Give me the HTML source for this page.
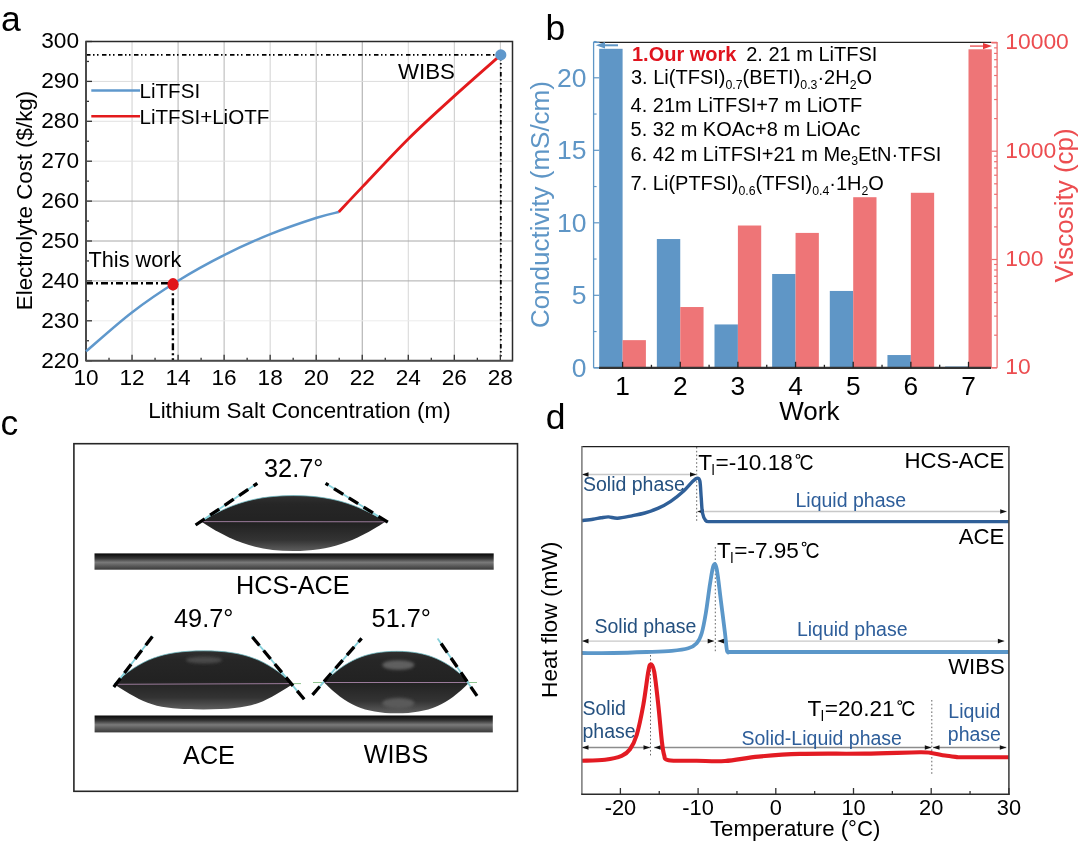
<!DOCTYPE html>
<html><head><meta charset="utf-8"><style>
html,body{margin:0;padding:0;background:#fff;width:1080px;height:843px;overflow:hidden}
svg{display:block;font-family:"Liberation Sans", sans-serif;will-change:transform}
</style></head><body>
<svg width="1080" height="843" viewBox="0 0 1080 843">
<rect width="1080" height="843" fill="#fff"/>
<text x="0.90" y="31.40" font-size="35.5" fill="#000" text-anchor="start" font-weight="normal" >a</text>
<text x="545.60" y="39.80" font-size="35.5" fill="#000" text-anchor="start" font-weight="normal" >b</text>
<text x="0.60" y="435.00" font-size="35.5" fill="#000" text-anchor="start" font-weight="normal" >c</text>
<text x="545.80" y="429.00" font-size="35.5" fill="#000" text-anchor="start" font-weight="normal" >d</text>
<line x1="132.04" y1="41.40" x2="132.04" y2="360.70" stroke="#cfcfcf" stroke-width="1" />
<line x1="178.08" y1="41.40" x2="178.08" y2="360.70" stroke="#b4b4b4" stroke-width="1" />
<line x1="224.12" y1="41.40" x2="224.12" y2="360.70" stroke="#b4b4b4" stroke-width="1" />
<line x1="270.16" y1="41.40" x2="270.16" y2="360.70" stroke="#d2d2d2" stroke-width="1" />
<line x1="316.20" y1="41.40" x2="316.20" y2="360.70" stroke="#bababa" stroke-width="1" />
<line x1="362.24" y1="41.40" x2="362.24" y2="360.70" stroke="#a6a6a6" stroke-width="1" />
<line x1="408.28" y1="41.40" x2="408.28" y2="360.70" stroke="#d6d6d6" stroke-width="1" />
<line x1="454.32" y1="41.40" x2="454.32" y2="360.70" stroke="#c8c8c8" stroke-width="1" />
<line x1="500.36" y1="41.40" x2="500.36" y2="360.70" stroke="#c8c8c8" stroke-width="1" />
<line x1="86.00" y1="320.80" x2="512.50" y2="320.80" stroke="#ececec" stroke-width="1" />
<line x1="86.00" y1="280.90" x2="512.50" y2="280.90" stroke="#acacac" stroke-width="1" />
<line x1="86.00" y1="241.00" x2="512.50" y2="241.00" stroke="#a8a8a8" stroke-width="1" />
<line x1="86.00" y1="201.10" x2="512.50" y2="201.10" stroke="#a8a8a8" stroke-width="1" />
<line x1="86.00" y1="161.20" x2="512.50" y2="161.20" stroke="#e2e2e2" stroke-width="1" />
<line x1="86.00" y1="121.30" x2="512.50" y2="121.30" stroke="#e2e2e2" stroke-width="1" />
<line x1="86.00" y1="81.40" x2="512.50" y2="81.40" stroke="#dcdcdc" stroke-width="1" />
<path d="M86.00,54.9 H500.8 V360.70" fill="none" stroke="#000" stroke-width="1.8" stroke-dasharray="4.5 2.5 1.5 2.5 1.5 3.5"/>
<path d="M86.00,283.2 H172.9" fill="none" stroke="#000" stroke-width="2.4" stroke-dasharray="7 3 2 3"/>
<path d="M172.9,283.2 V360.70" fill="none" stroke="#000" stroke-width="2.4" stroke-dasharray="7 3 2 3"/>
<line x1="86.00" y1="360.70" x2="92.00" y2="360.70" stroke="#333" stroke-width="1.3" />
<line x1="86.00" y1="340.75" x2="89.00" y2="340.75" stroke="#333" stroke-width="1.3" />
<line x1="86.00" y1="320.80" x2="92.00" y2="320.80" stroke="#333" stroke-width="1.3" />
<line x1="86.00" y1="300.85" x2="89.00" y2="300.85" stroke="#333" stroke-width="1.3" />
<line x1="86.00" y1="280.90" x2="92.00" y2="280.90" stroke="#333" stroke-width="1.3" />
<line x1="86.00" y1="260.95" x2="89.00" y2="260.95" stroke="#333" stroke-width="1.3" />
<line x1="86.00" y1="241.00" x2="92.00" y2="241.00" stroke="#333" stroke-width="1.3" />
<line x1="86.00" y1="221.05" x2="89.00" y2="221.05" stroke="#333" stroke-width="1.3" />
<line x1="86.00" y1="201.10" x2="92.00" y2="201.10" stroke="#333" stroke-width="1.3" />
<line x1="86.00" y1="181.15" x2="89.00" y2="181.15" stroke="#333" stroke-width="1.3" />
<line x1="86.00" y1="161.20" x2="92.00" y2="161.20" stroke="#333" stroke-width="1.3" />
<line x1="86.00" y1="141.25" x2="89.00" y2="141.25" stroke="#333" stroke-width="1.3" />
<line x1="86.00" y1="121.30" x2="92.00" y2="121.30" stroke="#333" stroke-width="1.3" />
<line x1="86.00" y1="101.35" x2="89.00" y2="101.35" stroke="#333" stroke-width="1.3" />
<line x1="86.00" y1="81.40" x2="92.00" y2="81.40" stroke="#333" stroke-width="1.3" />
<line x1="86.00" y1="61.45" x2="89.00" y2="61.45" stroke="#333" stroke-width="1.3" />
<line x1="86.00" y1="41.50" x2="92.00" y2="41.50" stroke="#333" stroke-width="1.3" />
<line x1="86.00" y1="360.70" x2="86.00" y2="354.70" stroke="#333" stroke-width="1.3" />
<line x1="109.02" y1="360.70" x2="109.02" y2="357.70" stroke="#333" stroke-width="1.3" />
<line x1="132.04" y1="360.70" x2="132.04" y2="354.70" stroke="#333" stroke-width="1.3" />
<line x1="155.06" y1="360.70" x2="155.06" y2="357.70" stroke="#333" stroke-width="1.3" />
<line x1="178.08" y1="360.70" x2="178.08" y2="354.70" stroke="#333" stroke-width="1.3" />
<line x1="201.10" y1="360.70" x2="201.10" y2="357.70" stroke="#333" stroke-width="1.3" />
<line x1="224.12" y1="360.70" x2="224.12" y2="354.70" stroke="#333" stroke-width="1.3" />
<line x1="247.14" y1="360.70" x2="247.14" y2="357.70" stroke="#333" stroke-width="1.3" />
<line x1="270.16" y1="360.70" x2="270.16" y2="354.70" stroke="#333" stroke-width="1.3" />
<line x1="293.18" y1="360.70" x2="293.18" y2="357.70" stroke="#333" stroke-width="1.3" />
<line x1="316.20" y1="360.70" x2="316.20" y2="354.70" stroke="#333" stroke-width="1.3" />
<line x1="339.22" y1="360.70" x2="339.22" y2="357.70" stroke="#333" stroke-width="1.3" />
<line x1="362.24" y1="360.70" x2="362.24" y2="354.70" stroke="#333" stroke-width="1.3" />
<line x1="385.26" y1="360.70" x2="385.26" y2="357.70" stroke="#333" stroke-width="1.3" />
<line x1="408.28" y1="360.70" x2="408.28" y2="354.70" stroke="#333" stroke-width="1.3" />
<line x1="431.30" y1="360.70" x2="431.30" y2="357.70" stroke="#333" stroke-width="1.3" />
<line x1="454.32" y1="360.70" x2="454.32" y2="354.70" stroke="#333" stroke-width="1.3" />
<line x1="477.34" y1="360.70" x2="477.34" y2="357.70" stroke="#333" stroke-width="1.3" />
<line x1="500.36" y1="360.70" x2="500.36" y2="354.70" stroke="#333" stroke-width="1.3" />
<path d="M86.00,360.70 V41.40 H512.50 V360.70 Z" fill="none" stroke="#2a2a2a" stroke-width="1.5"/>
<line x1="86.00" y1="41.40" x2="86.00" y2="360.70" stroke="#4a4a4a" stroke-width="1.8" />
<line x1="86.00" y1="360.70" x2="512.50" y2="360.70" stroke="#4a4a4a" stroke-width="1.8" />
<path d="M86.00,351.40 C93.65,344.90 116.55,324.18 131.90,312.40 C147.25,300.62 162.65,290.30 178.10,280.70 C193.55,271.10 209.32,262.52 224.60,254.80 C239.88,247.08 254.45,240.57 269.80,234.40 C285.15,228.23 305.20,221.53 316.70,217.80 C328.20,214.07 335.12,212.97 338.80,212.00" fill="none" stroke="#5f98cc" stroke-width="2.5"/>
<path d="M338.80,212.00 C342.73,207.82 350.70,199.20 362.40,186.90 C374.10,174.60 393.65,153.37 409.00,138.20 C424.35,123.03 439.20,109.78 454.50,95.90 C469.80,82.02 493.08,61.73 500.80,54.90" fill="none" stroke="#e31a1c" stroke-width="2.8"/>
<ellipse cx="173.0" cy="284.3" rx="5.6" ry="6.2" fill="#e11419"/>
<circle cx="500.8" cy="54.9" r="5.6" fill="#5f98cc"/>
<line x1="91.30" y1="90.50" x2="140.00" y2="90.50" stroke="#5f98cc" stroke-width="2.4" />
<line x1="91.30" y1="116.30" x2="140.00" y2="116.30" stroke="#e31a1c" stroke-width="2.4" />
<text x="139.50" y="97.60" font-size="20.6" fill="#000" text-anchor="start" font-weight="normal" >LiTFSI</text>
<text x="139.50" y="124.30" font-size="20.6" fill="#000" text-anchor="start" font-weight="normal" >LiTFSI+LiOTF</text>
<text x="88.50" y="266.90" font-size="21.7" fill="#000" text-anchor="start" font-weight="normal" >This work</text>
<text x="398.00" y="79.10" font-size="22.3" fill="#000" text-anchor="start" font-weight="normal" >WIBS</text>
<text x="79.00" y="367.60" font-size="22.7" fill="#000" text-anchor="end" font-weight="normal" >220</text>
<text x="79.00" y="327.70" font-size="22.7" fill="#000" text-anchor="end" font-weight="normal" >230</text>
<text x="79.00" y="287.80" font-size="22.7" fill="#000" text-anchor="end" font-weight="normal" >240</text>
<text x="79.00" y="247.90" font-size="22.7" fill="#000" text-anchor="end" font-weight="normal" >250</text>
<text x="79.00" y="208.00" font-size="22.7" fill="#000" text-anchor="end" font-weight="normal" >260</text>
<text x="79.00" y="168.10" font-size="22.7" fill="#000" text-anchor="end" font-weight="normal" >270</text>
<text x="79.00" y="128.20" font-size="22.7" fill="#000" text-anchor="end" font-weight="normal" >280</text>
<text x="79.00" y="88.30" font-size="22.7" fill="#000" text-anchor="end" font-weight="normal" >290</text>
<text x="79.00" y="48.40" font-size="22.7" fill="#000" text-anchor="end" font-weight="normal" >300</text>
<text x="86.00" y="385.00" font-size="22.6" fill="#000" text-anchor="middle" font-weight="normal" >10</text>
<text x="132.04" y="385.00" font-size="22.6" fill="#000" text-anchor="middle" font-weight="normal" >12</text>
<text x="178.08" y="385.00" font-size="22.6" fill="#000" text-anchor="middle" font-weight="normal" >14</text>
<text x="224.12" y="385.00" font-size="22.6" fill="#000" text-anchor="middle" font-weight="normal" >16</text>
<text x="270.16" y="385.00" font-size="22.6" fill="#000" text-anchor="middle" font-weight="normal" >18</text>
<text x="316.20" y="385.00" font-size="22.6" fill="#000" text-anchor="middle" font-weight="normal" >20</text>
<text x="362.24" y="385.00" font-size="22.6" fill="#000" text-anchor="middle" font-weight="normal" >22</text>
<text x="408.28" y="385.00" font-size="22.6" fill="#000" text-anchor="middle" font-weight="normal" >24</text>
<text x="454.32" y="385.00" font-size="22.6" fill="#000" text-anchor="middle" font-weight="normal" >26</text>
<text x="500.36" y="385.00" font-size="22.6" fill="#000" text-anchor="middle" font-weight="normal" >28</text>
<text x="299.40" y="418.40" font-size="22.4" fill="#000" text-anchor="middle" font-weight="normal" >Lithium Salt Concentration (m)</text>
<text transform="translate(31.5,200.5) rotate(-90)" x="0" y="0" font-size="22.3" text-anchor="middle" fill="#000">Electrolyte Cost ($/kg)</text>
<rect x="599.20" y="48.80" width="23.4" height="319.00" fill="#5f96c6"/>
<rect x="622.60" y="340.15" width="23.3" height="27.65" fill="#ee7577"/>
<rect x="656.85" y="239.04" width="23.4" height="128.76" fill="#5f96c6"/>
<rect x="680.25" y="307.03" width="23.3" height="60.77" fill="#ee7577"/>
<rect x="714.50" y="324.44" width="23.4" height="43.36" fill="#5f96c6"/>
<rect x="737.90" y="225.51" width="23.3" height="142.29" fill="#ee7577"/>
<rect x="772.15" y="273.99" width="23.4" height="93.81" fill="#5f96c6"/>
<rect x="795.55" y="232.91" width="23.3" height="134.89" fill="#ee7577"/>
<rect x="829.80" y="290.95" width="23.4" height="76.85" fill="#5f96c6"/>
<rect x="853.20" y="197.21" width="23.3" height="170.59" fill="#ee7577"/>
<rect x="887.45" y="355.04" width="23.4" height="12.76" fill="#5f96c6"/>
<rect x="910.85" y="192.79" width="23.3" height="175.01" fill="#ee7577"/>
<rect x="945.10" y="366.50" width="23.4" height="1.31" fill="#5f96c6"/>
<rect x="968.50" y="49.29" width="23.3" height="318.51" fill="#ee7577"/>
<line x1="594.60" y1="42.40" x2="991.00" y2="42.40" stroke="#222" stroke-width="1.4" />
<line x1="991.00" y1="42.40" x2="997.10" y2="42.40" stroke="#ec6f71" stroke-width="1.3" />
<line x1="593.60" y1="42.40" x2="599.60" y2="42.40" stroke="#5f96c6" stroke-width="1.3" />
<line x1="599.00" y1="367.80" x2="991.00" y2="367.80" stroke="#333" stroke-width="2.2" />
<line x1="991.00" y1="367.80" x2="997.10" y2="367.80" stroke="#ec6f71" stroke-width="1.3" />
<line x1="593.60" y1="42.10" x2="593.60" y2="367.80" stroke="#5f96c6" stroke-width="1.3" />
<line x1="593.60" y1="367.80" x2="599.00" y2="367.80" stroke="#5f96c6" stroke-width="1.3" />
<line x1="997.10" y1="42.10" x2="997.10" y2="367.80" stroke="#ec6f71" stroke-width="1.3" />
<line x1="593.60" y1="367.80" x2="599.20" y2="367.80" stroke="#5f96c6" stroke-width="1.2" />
<line x1="593.60" y1="331.55" x2="596.60" y2="331.55" stroke="#5f96c6" stroke-width="1.2" />
<line x1="593.60" y1="295.30" x2="599.20" y2="295.30" stroke="#5f96c6" stroke-width="1.2" />
<line x1="593.60" y1="259.05" x2="596.60" y2="259.05" stroke="#5f96c6" stroke-width="1.2" />
<line x1="593.60" y1="222.80" x2="599.20" y2="222.80" stroke="#5f96c6" stroke-width="1.2" />
<line x1="593.60" y1="186.55" x2="596.60" y2="186.55" stroke="#5f96c6" stroke-width="1.2" />
<line x1="593.60" y1="150.30" x2="599.20" y2="150.30" stroke="#5f96c6" stroke-width="1.2" />
<line x1="593.60" y1="114.05" x2="596.60" y2="114.05" stroke="#5f96c6" stroke-width="1.2" />
<line x1="593.60" y1="77.80" x2="599.20" y2="77.80" stroke="#5f96c6" stroke-width="1.2" />
<line x1="593.60" y1="41.55" x2="596.60" y2="41.55" stroke="#5f96c6" stroke-width="1.2" />
<line x1="991.60" y1="367.80" x2="997.10" y2="367.80" stroke="#ec6f71" stroke-width="1.2" />
<line x1="994.10" y1="335.20" x2="997.10" y2="335.20" stroke="#ec6f71" stroke-width="1.2" />
<line x1="994.10" y1="316.13" x2="997.10" y2="316.13" stroke="#ec6f71" stroke-width="1.2" />
<line x1="994.10" y1="302.60" x2="997.10" y2="302.60" stroke="#ec6f71" stroke-width="1.2" />
<line x1="994.10" y1="292.10" x2="997.10" y2="292.10" stroke="#ec6f71" stroke-width="1.2" />
<line x1="994.10" y1="283.53" x2="997.10" y2="283.53" stroke="#ec6f71" stroke-width="1.2" />
<line x1="994.10" y1="276.28" x2="997.10" y2="276.28" stroke="#ec6f71" stroke-width="1.2" />
<line x1="994.10" y1="270.00" x2="997.10" y2="270.00" stroke="#ec6f71" stroke-width="1.2" />
<line x1="994.10" y1="264.46" x2="997.10" y2="264.46" stroke="#ec6f71" stroke-width="1.2" />
<line x1="991.60" y1="259.50" x2="997.10" y2="259.50" stroke="#ec6f71" stroke-width="1.2" />
<line x1="994.10" y1="226.90" x2="997.10" y2="226.90" stroke="#ec6f71" stroke-width="1.2" />
<line x1="994.10" y1="207.83" x2="997.10" y2="207.83" stroke="#ec6f71" stroke-width="1.2" />
<line x1="994.10" y1="194.30" x2="997.10" y2="194.30" stroke="#ec6f71" stroke-width="1.2" />
<line x1="994.10" y1="183.80" x2="997.10" y2="183.80" stroke="#ec6f71" stroke-width="1.2" />
<line x1="994.10" y1="175.23" x2="997.10" y2="175.23" stroke="#ec6f71" stroke-width="1.2" />
<line x1="994.10" y1="167.98" x2="997.10" y2="167.98" stroke="#ec6f71" stroke-width="1.2" />
<line x1="994.10" y1="161.70" x2="997.10" y2="161.70" stroke="#ec6f71" stroke-width="1.2" />
<line x1="994.10" y1="156.16" x2="997.10" y2="156.16" stroke="#ec6f71" stroke-width="1.2" />
<line x1="991.60" y1="151.20" x2="997.10" y2="151.20" stroke="#ec6f71" stroke-width="1.2" />
<line x1="994.10" y1="118.60" x2="997.10" y2="118.60" stroke="#ec6f71" stroke-width="1.2" />
<line x1="994.10" y1="99.53" x2="997.10" y2="99.53" stroke="#ec6f71" stroke-width="1.2" />
<line x1="994.10" y1="86.00" x2="997.10" y2="86.00" stroke="#ec6f71" stroke-width="1.2" />
<line x1="994.10" y1="75.50" x2="997.10" y2="75.50" stroke="#ec6f71" stroke-width="1.2" />
<line x1="994.10" y1="66.93" x2="997.10" y2="66.93" stroke="#ec6f71" stroke-width="1.2" />
<line x1="994.10" y1="59.68" x2="997.10" y2="59.68" stroke="#ec6f71" stroke-width="1.2" />
<line x1="994.10" y1="53.40" x2="997.10" y2="53.40" stroke="#ec6f71" stroke-width="1.2" />
<line x1="994.10" y1="47.86" x2="997.10" y2="47.86" stroke="#ec6f71" stroke-width="1.2" />
<line x1="991.60" y1="42.90" x2="997.10" y2="42.90" stroke="#ec6f71" stroke-width="1.2" />
<line x1="622.60" y1="367.80" x2="622.60" y2="361.80" stroke="#222" stroke-width="1.3" />
<line x1="651.44" y1="367.80" x2="651.44" y2="364.80" stroke="#222" stroke-width="1.3" />
<line x1="680.25" y1="367.80" x2="680.25" y2="361.80" stroke="#222" stroke-width="1.3" />
<line x1="709.09" y1="367.80" x2="709.09" y2="364.80" stroke="#222" stroke-width="1.3" />
<line x1="737.90" y1="367.80" x2="737.90" y2="361.80" stroke="#222" stroke-width="1.3" />
<line x1="766.74" y1="367.80" x2="766.74" y2="364.80" stroke="#222" stroke-width="1.3" />
<line x1="795.55" y1="367.80" x2="795.55" y2="361.80" stroke="#222" stroke-width="1.3" />
<line x1="824.39" y1="367.80" x2="824.39" y2="364.80" stroke="#222" stroke-width="1.3" />
<line x1="853.20" y1="367.80" x2="853.20" y2="361.80" stroke="#222" stroke-width="1.3" />
<line x1="882.04" y1="367.80" x2="882.04" y2="364.80" stroke="#222" stroke-width="1.3" />
<line x1="910.85" y1="367.80" x2="910.85" y2="361.80" stroke="#222" stroke-width="1.3" />
<line x1="939.69" y1="367.80" x2="939.69" y2="364.80" stroke="#222" stroke-width="1.3" />
<line x1="968.50" y1="367.80" x2="968.50" y2="361.80" stroke="#222" stroke-width="1.3" />
<path d="M600,45.3 L618,45.3" stroke="#5f96c6" stroke-width="2"/>
<path d="M595.8,45.3 L605,42.0 L605,48.6 Z" fill="#5f96c6"/>
<path d="M970,46.1 L985,46.1" stroke="#ec6a6c" stroke-width="1.6"/>
<path d="M992,46.1 L983,42.9 L983,49.3 Z" fill="#e8383b"/>
<text x="586.60" y="376.70" font-size="26.5" fill="#5f96c6" text-anchor="end" font-weight="normal" >0</text>
<text x="586.60" y="304.20" font-size="26.5" fill="#5f96c6" text-anchor="end" font-weight="normal" >5</text>
<text x="586.60" y="231.70" font-size="26.5" fill="#5f96c6" text-anchor="end" font-weight="normal" >10</text>
<text x="586.60" y="159.20" font-size="26.5" fill="#5f96c6" text-anchor="end" font-weight="normal" >15</text>
<text x="586.60" y="86.70" font-size="26.5" fill="#5f96c6" text-anchor="end" font-weight="normal" >20</text>
<text x="1005.20" y="374.30" font-size="22.9" fill="#ec4d50" text-anchor="start" font-weight="normal" >10</text>
<text x="1005.20" y="266.00" font-size="22.9" fill="#ec4d50" text-anchor="start" font-weight="normal" >100</text>
<text x="1005.20" y="157.70" font-size="22.9" fill="#ec4d50" text-anchor="start" font-weight="normal" >1000</text>
<text x="1005.20" y="49.40" font-size="22.9" fill="#ec4d50" text-anchor="start" font-weight="normal" >10000</text>
<text x="622.60" y="394.60" font-size="26.3" fill="#000" text-anchor="middle" font-weight="normal" >1</text>
<text x="680.25" y="394.60" font-size="26.3" fill="#000" text-anchor="middle" font-weight="normal" >2</text>
<text x="737.90" y="394.60" font-size="26.3" fill="#000" text-anchor="middle" font-weight="normal" >3</text>
<text x="795.55" y="394.60" font-size="26.3" fill="#000" text-anchor="middle" font-weight="normal" >4</text>
<text x="853.20" y="394.60" font-size="26.3" fill="#000" text-anchor="middle" font-weight="normal" >5</text>
<text x="910.85" y="394.60" font-size="26.3" fill="#000" text-anchor="middle" font-weight="normal" >6</text>
<text x="968.50" y="394.60" font-size="26.3" fill="#000" text-anchor="middle" font-weight="normal" >7</text>
<text x="809.30" y="420.00" font-size="26" fill="#000" text-anchor="middle" font-weight="normal" >Work</text>
<text transform="translate(548.8,204.6) rotate(-90)" font-size="26" text-anchor="middle" fill="#5f96c6">Conductivity (mS/cm)</text>
<text transform="translate(1072.7,205.4) rotate(-90)" font-size="26" text-anchor="middle" fill="#ec4d50">Viscosity (cp)</text>
<text x="632" y="60.6" font-size="20" font-weight="bold" fill="#e0141e">1.Our work</text>
<text x="746.20" y="60.60" font-size="20" fill="#000" text-anchor="start" font-weight="normal" >2. 21 m LiTFSI</text>
<text x="631" y="84.4" font-size="20">3. Li(TFSI)<tspan font-size="12.3" dy="4.5">0.7</tspan><tspan dy="-4.5">(BETI)</tspan><tspan font-size="12.3" dy="4.5">0.3</tspan><tspan dy="-4.5">·2H</tspan><tspan font-size="12.3" dy="4.5">2</tspan><tspan dy="-4.5">O</tspan></text>
<text x="630.60" y="111.80" font-size="20" fill="#000" text-anchor="start" font-weight="normal" >4. 21m LiTFSI+7 m LiOTF</text>
<text x="630.60" y="136.10" font-size="20" fill="#000" text-anchor="start" font-weight="normal" >5. 32 m KOAc+8 m LiOAc</text>
<text x="630.6" y="160.8" font-size="20">6. 42 m LiTFSI+21 m Me<tspan font-size="12.3" dy="4.5">3</tspan><tspan dy="-4.5">EtN·TFSI</tspan></text>
<text x="630.6" y="190.3" font-size="20">7. Li(PTFSI)<tspan font-size="12.3" dy="4.5">0.6</tspan><tspan dy="-4.5">(TFSI)</tspan><tspan font-size="12.3" dy="4.5">0.4</tspan><tspan dy="-4.5">·1H</tspan><tspan font-size="12.3" dy="4.5">2</tspan><tspan dy="-4.5">O</tspan></text>
<rect x="73.9" y="443.7" width="443.6" height="347.6" fill="none" stroke="#262626" stroke-width="1.6"/>
<defs>
<linearGradient id="rod" x1="0" y1="0" x2="0" y2="1">
<stop offset="0" stop-color="#080808"/><stop offset="0.3" stop-color="#353535"/>
<stop offset="0.55" stop-color="#7a7a7a"/><stop offset="0.8" stop-color="#555"/><stop offset="1" stop-color="#3a3a3a"/>
</linearGradient>
<linearGradient id="drop" x1="0" y1="0" x2="0" y2="1">
<stop offset="0" stop-color="#303030"/><stop offset="0.15" stop-color="#262626"/><stop offset="0.5" stop-color="#222"/><stop offset="0.8" stop-color="#333"/><stop offset="1" stop-color="#5e5e5e"/>
</linearGradient>
<filter id="blur1" x="-20%" y="-50%" width="140%" height="200%"><feGaussianBlur stdDeviation="1.6"/></filter>
</defs>
<rect x="94.5" y="553.4" width="399.2" height="16.3" fill="url(#rod)"/>
<rect x="94.6" y="715.5" width="398.2" height="16.9" fill="url(#rod)"/>
<path d="M201.10,521.60 C230.62,503.40 256.45,495.60 293.35,495.60 C330.25,495.60 356.08,503.40 385.60,521.60 C355.16,541.66 330.25,551.10 293.35,551.10 C256.45,551.10 231.54,541.66 201.10,521.60 Z" fill="url(#drop)"/>
<path d="M113.80,684.00 C140.68,659.10 163.08,650.80 203.40,650.80 C243.72,650.80 266.12,659.10 293.00,684.00 C260.74,704.32 252.68,709.40 203.40,709.40 C154.12,709.40 146.06,704.32 113.80,684.00 Z" fill="url(#drop)"/>
<path d="M324.20,682.50 C345.95,660.04 366.25,651.30 396.70,651.30 C427.15,651.30 447.45,660.04 469.20,682.50 C447.45,704.68 429.32,713.30 396.70,713.30 C364.07,713.30 345.95,704.68 324.20,682.50 Z" fill="url(#drop)"/>
<path d="M201.10,521.60 C230.62,503.40 256.45,495.60 293.35,495.60 C330.25,495.60 356.08,503.40 385.60,521.60" fill="none" stroke="#6fc0c8" stroke-width="0.9" opacity="0.8"/>
<path d="M113.80,684.00 C140.68,659.10 163.08,650.80 203.40,650.80 C243.72,650.80 266.12,659.10 293.00,684.00" fill="none" stroke="#6fc0c8" stroke-width="0.9" opacity="0.8"/>
<path d="M324.20,682.50 C345.95,660.04 366.25,651.30 396.70,651.30 C427.15,651.30 447.45,660.04 469.20,682.50" fill="none" stroke="#6fc0c8" stroke-width="0.9" opacity="0.8"/>
<ellipse cx="204" cy="660" rx="18" ry="3.5" fill="#4a4a4a" filter="url(#blur1)"/>
<ellipse cx="398.3" cy="665" rx="16" ry="4.8" fill="#5e5e5e" filter="url(#blur1)"/>
<ellipse cx="398.3" cy="703.3" rx="16" ry="5.2" fill="#5a5a5a" filter="url(#blur1)"/>
<line x1="201.00" y1="521.60" x2="385.60" y2="521.80" stroke="#9a7a9a" stroke-width="1" />
<line x1="114.00" y1="684.30" x2="293.00" y2="683.60" stroke="#9a7a9a" stroke-width="1" />
<line x1="324.00" y1="682.50" x2="469.00" y2="682.50" stroke="#9a7a9a" stroke-width="1" />
<line x1="313.00" y1="682.50" x2="324.00" y2="682.50" stroke="#8fc48f" stroke-width="1" />
<line x1="469.00" y1="682.50" x2="477.00" y2="682.50" stroke="#8fc48f" stroke-width="1" />
<line x1="293.00" y1="683.60" x2="301.00" y2="683.60" stroke="#8fc48f" stroke-width="1" />
<line x1="195.60" y1="525.00" x2="257.30" y2="483.30" stroke="#86d0da" stroke-width="1.8" />
<line x1="195.60" y1="525.00" x2="257.30" y2="483.30" stroke="#000" stroke-width="3.3" stroke-dasharray="11 6.5"/>
<line x1="387.80" y1="522.20" x2="325.60" y2="483.30" stroke="#86d0da" stroke-width="1.8" />
<line x1="387.80" y1="522.20" x2="325.60" y2="483.30" stroke="#000" stroke-width="3.3" stroke-dasharray="11 6.5"/>
<line x1="113.80" y1="686.90" x2="152.60" y2="636.20" stroke="#86d0da" stroke-width="1.8" />
<line x1="113.80" y1="686.90" x2="152.60" y2="636.20" stroke="#000" stroke-width="3.3" stroke-dasharray="11 6.5"/>
<line x1="304.20" y1="699.30" x2="251.70" y2="636.20" stroke="#86d0da" stroke-width="1.8" />
<line x1="304.20" y1="699.30" x2="251.70" y2="636.20" stroke="#000" stroke-width="3.3" stroke-dasharray="11 6.5"/>
<line x1="312.50" y1="694.80" x2="361.60" y2="638.40" stroke="#86d0da" stroke-width="1.8" />
<line x1="312.50" y1="694.80" x2="361.60" y2="638.40" stroke="#000" stroke-width="3.3" stroke-dasharray="11 6.5"/>
<line x1="477.00" y1="695.90" x2="437.60" y2="638.40" stroke="#86d0da" stroke-width="1.8" />
<line x1="477.00" y1="695.90" x2="437.60" y2="638.40" stroke="#000" stroke-width="3.3" stroke-dasharray="11 6.5"/>
<text x="264.00" y="476.50" font-size="25.3" fill="#000" text-anchor="start" font-weight="normal" >32.7°</text>
<text x="292.80" y="594.40" font-size="25.2" fill="#000" text-anchor="middle" font-weight="normal" >HCS-ACE</text>
<text x="174.00" y="627.20" font-size="25.3" fill="#000" text-anchor="start" font-weight="normal" >49.7°</text>
<text x="209.00" y="763.50" font-size="25.2" fill="#000" text-anchor="middle" font-weight="normal" >ACE</text>
<text x="371.60" y="626.50" font-size="25.3" fill="#000" text-anchor="start" font-weight="normal" >51.7°</text>
<text x="396.00" y="763.30" font-size="25.2" fill="#000" text-anchor="middle" font-weight="normal" >WIBS</text>
<line x1="696.70" y1="447.00" x2="696.70" y2="521.00" stroke="#666" stroke-width="1" stroke-dasharray="1.6 2.2"/>
<line x1="715.30" y1="547.00" x2="715.30" y2="652.00" stroke="#666" stroke-width="1" stroke-dasharray="1.6 2.2"/>
<line x1="650.50" y1="655.00" x2="650.50" y2="756.00" stroke="#666" stroke-width="1" stroke-dasharray="1.6 2.2"/>
<line x1="931.80" y1="700.00" x2="931.80" y2="775.00" stroke="#666" stroke-width="1" stroke-dasharray="1.6 2.2"/>
<line x1="582.00" y1="474.50" x2="696.50" y2="474.50" stroke="#c8c8c8" stroke-width="1.3" />
<path d="M582.00,474.50 L588.50,472.20 L588.50,476.80 Z" fill="#111"/>
<path d="M696.50,474.50 L690.00,472.20 L690.00,476.80 Z" fill="#111"/>
<line x1="697.30" y1="511.50" x2="1006.70" y2="511.50" stroke="#c8c8c8" stroke-width="1.3" />
<path d="M697.30,511.50 L703.80,509.20 L703.80,513.80 Z" fill="#111"/>
<path d="M1006.70,511.50 L1000.20,509.20 L1000.20,513.80 Z" fill="#111"/>
<line x1="582.00" y1="641.10" x2="714.20" y2="641.10" stroke="#c8c8c8" stroke-width="1.3" />
<path d="M582.00,641.10 L588.50,638.80 L588.50,643.40 Z" fill="#111"/>
<path d="M714.20,641.10 L707.70,638.80 L707.70,643.40 Z" fill="#111"/>
<line x1="717.50" y1="641.10" x2="1004.40" y2="641.10" stroke="#c8c8c8" stroke-width="1.3" />
<path d="M717.50,641.10 L724.00,638.80 L724.00,643.40 Z" fill="#111"/>
<path d="M1004.40,641.10 L997.90,638.80 L997.90,643.40 Z" fill="#111"/>
<line x1="582.00" y1="747.50" x2="650.00" y2="747.50" stroke="#8c8c8c" stroke-width="1.3" />
<path d="M582.00,747.50 L588.50,745.20 L588.50,749.80 Z" fill="#111"/>
<path d="M650.00,747.50 L643.50,745.20 L643.50,749.80 Z" fill="#111"/>
<line x1="654.20" y1="747.50" x2="931.30" y2="747.50" stroke="#8c8c8c" stroke-width="1.3" />
<path d="M654.20,747.50 L660.70,745.20 L660.70,749.80 Z" fill="#111"/>
<path d="M931.30,747.50 L924.80,745.20 L924.80,749.80 Z" fill="#111"/>
<line x1="933.00" y1="747.50" x2="1006.30" y2="747.50" stroke="#8c8c8c" stroke-width="1.3" />
<path d="M933.00,747.50 L939.50,745.20 L939.50,749.80 Z" fill="#111"/>
<path d="M1006.30,747.50 L999.80,745.20 L999.80,749.80 Z" fill="#111"/>
<path d="M582.00,520.50 C583.83,520.28 589.83,519.65 593.00,519.20 C596.17,518.75 598.42,518.18 601.00,517.80 C603.58,517.42 605.73,516.83 608.50,516.90 C611.27,516.97 613.70,518.38 617.60,518.20 C621.50,518.02 627.37,516.67 631.90,515.80 C636.43,514.93 640.48,514.23 644.80,513.00 C649.12,511.77 653.48,510.35 657.80,508.40 C662.12,506.45 666.38,504.22 670.70,501.30 C675.02,498.38 680.02,494.25 683.70,490.90 C687.38,487.55 690.53,483.32 692.80,481.20 C695.07,479.08 696.12,478.20 697.30,478.20 C698.48,478.20 699.25,478.00 699.90,481.20 C700.55,484.40 700.77,492.10 701.20,497.40 C701.63,502.70 701.75,509.12 702.50,513.00 C703.25,516.88 704.52,519.27 705.70,520.70 C706.88,522.13 708.95,521.45 709.60,521.60 L1009,521.6" fill="none" stroke="#2f5f98" stroke-width="3.4" stroke-linejoin="round"/>
<path d="M582.00,653.00 C587.22,653.00 602.52,653.17 613.30,653.00 C624.08,652.83 636.97,652.37 646.70,652.00 C656.43,651.63 664.77,651.42 671.70,650.80 C678.63,650.18 684.13,649.55 688.30,648.30 C692.47,647.05 694.47,645.80 696.70,643.30 C698.93,640.80 700.18,638.30 701.70,633.30 C703.22,628.30 704.42,621.52 705.80,613.30 C707.18,605.08 708.72,591.95 710.00,584.00 C711.28,576.05 712.38,568.10 713.50,565.60 C714.62,563.10 715.48,563.27 716.70,569.00 C717.92,574.73 719.42,589.28 720.80,600.00 C722.18,610.72 723.97,624.83 725.00,633.30 C726.03,641.77 726.30,647.68 727.00,650.80 C727.70,653.92 728.83,651.80 729.20,652.00 L1009,652" fill="none" stroke="#5b97c9" stroke-width="3.8" stroke-linejoin="round"/>
<path d="M582.00,760.80 C585.83,760.62 598.38,760.53 605.00,759.70 C611.62,758.87 617.53,757.55 621.70,755.80 C625.87,754.05 627.50,752.67 630.00,749.20 C632.50,745.73 634.48,742.37 636.70,735.00 C638.92,727.63 641.37,715.55 643.30,705.00 C645.23,694.45 647.05,678.50 648.30,671.70 C649.55,664.90 649.82,664.20 650.80,664.20 C651.78,664.20 652.95,664.90 654.20,671.70 C655.45,678.50 657.02,693.33 658.30,705.00 C659.58,716.67 660.92,733.33 661.90,741.70 C662.88,750.07 663.10,752.12 664.20,755.20 C665.30,758.28 663.08,759.28 668.50,760.20 C673.92,761.12 687.28,760.57 696.70,760.70 C706.12,760.83 714.70,761.68 725.00,761.00 C735.30,760.32 746.00,757.78 758.50,756.60 C771.00,755.42 782.25,754.40 800.00,753.90 C817.75,753.40 845.00,753.87 865.00,753.60 C885.00,753.33 908.75,752.37 920.00,752.30 C931.25,752.23 928.33,752.65 932.50,753.20 C936.67,753.75 940.75,754.93 945.00,755.60 C949.25,756.27 955.83,756.93 958.00,757.20 L1009,757.2" fill="none" stroke="#e31b23" stroke-width="4.1" stroke-linejoin="round"/>
<line x1="581.90" y1="446.60" x2="1008.90" y2="446.60" stroke="#1e1e1e" stroke-width="1.3" />
<line x1="581.90" y1="446.00" x2="581.90" y2="794.30" stroke="#6e6e6e" stroke-width="1.4" />
<line x1="1008.90" y1="446.00" x2="1008.90" y2="794.90" stroke="#444" stroke-width="1.6" />
<line x1="581.20" y1="794.30" x2="1009.60" y2="794.30" stroke="#2a2a2a" stroke-width="1.4" />
<line x1="620.40" y1="794.00" x2="620.40" y2="788.00" stroke="#333" stroke-width="1.3" />
<line x1="659.25" y1="794.00" x2="659.25" y2="791.00" stroke="#333" stroke-width="1.3" />
<line x1="698.10" y1="794.00" x2="698.10" y2="788.00" stroke="#333" stroke-width="1.3" />
<line x1="736.95" y1="794.00" x2="736.95" y2="791.00" stroke="#333" stroke-width="1.3" />
<line x1="775.80" y1="794.00" x2="775.80" y2="788.00" stroke="#333" stroke-width="1.3" />
<line x1="814.65" y1="794.00" x2="814.65" y2="791.00" stroke="#333" stroke-width="1.3" />
<line x1="853.50" y1="794.00" x2="853.50" y2="788.00" stroke="#333" stroke-width="1.3" />
<line x1="892.35" y1="794.00" x2="892.35" y2="791.00" stroke="#333" stroke-width="1.3" />
<line x1="931.20" y1="794.00" x2="931.20" y2="788.00" stroke="#333" stroke-width="1.3" />
<line x1="970.05" y1="794.00" x2="970.05" y2="791.00" stroke="#333" stroke-width="1.3" />
<line x1="1008.90" y1="794.00" x2="1008.90" y2="788.00" stroke="#333" stroke-width="1.3" />
<text x="620.40" y="815.30" font-size="21.8" fill="#000" text-anchor="middle" font-weight="normal" >-20</text>
<text x="698.10" y="815.30" font-size="21.8" fill="#000" text-anchor="middle" font-weight="normal" >-10</text>
<text x="775.80" y="815.30" font-size="21.8" fill="#000" text-anchor="middle" font-weight="normal" >0</text>
<text x="853.50" y="815.30" font-size="21.8" fill="#000" text-anchor="middle" font-weight="normal" >10</text>
<text x="931.20" y="815.30" font-size="21.8" fill="#000" text-anchor="middle" font-weight="normal" >20</text>
<text x="1008.90" y="815.30" font-size="21.8" fill="#000" text-anchor="middle" font-weight="normal" >30</text>
<text x="795.20" y="836.00" font-size="22.2" fill="#000" text-anchor="middle" font-weight="normal" >Temperature (°C)</text>
<text transform="translate(557.2,619.8) rotate(-90)" font-size="22.7" text-anchor="middle" fill="#000">Heat flow (mW)</text>
<text x="1004.40" y="468.20" font-size="22.2" fill="#000" text-anchor="end" font-weight="normal" >HCS-ACE</text>
<text x="1004.40" y="544.40" font-size="22.2" fill="#000" text-anchor="end" font-weight="normal" >ACE</text>
<text x="1004.90" y="673.80" font-size="22.2" fill="#000" text-anchor="end" font-weight="normal" >WIBS</text>
<text x="698.20" y="470.10" font-size="22.6" fill="#000">T</text><text x="711.51" y="475.00" font-size="14.5" fill="#000">l</text><text x="715.53" y="470.10" font-size="22.6" fill="#000">=-10.18</text>
<circle cx="798.00" cy="456.40" r="1.9" fill="none" stroke="#000" stroke-width="1.1"/>
<text transform="translate(799.40,470.10) scale(0.86,1)" font-size="22.6" fill="#000">C</text>
<text x="716.90" y="557.80" font-size="22.6" fill="#000">T</text><text x="730.21" y="562.70" font-size="14.5" fill="#000">l</text><text x="734.23" y="557.80" font-size="22.6" fill="#000">=-7.95</text>
<circle cx="804.13" cy="544.10" r="1.9" fill="none" stroke="#000" stroke-width="1.1"/>
<text transform="translate(805.53,557.80) scale(0.86,1)" font-size="22.6" fill="#000">C</text>
<text x="807.50" y="716.30" font-size="22.6" fill="#000">T</text><text x="820.81" y="721.20" font-size="14.5" fill="#000">l</text><text x="824.83" y="716.30" font-size="22.6" fill="#000">=20.21</text>
<circle cx="899.77" cy="702.60" r="1.9" fill="none" stroke="#000" stroke-width="1.1"/>
<text transform="translate(901.17,716.30) scale(0.86,1)" font-size="22.6" fill="#000">C</text>
<text x="583.00" y="491.10" font-size="19.5" fill="#24507f" text-anchor="start" font-weight="normal" >Solid phase</text>
<text x="795.50" y="506.70" font-size="19.5" fill="#2e5e9a" text-anchor="start" font-weight="normal" >Liquid phase</text>
<text x="594.50" y="632.50" font-size="19.5" fill="#24507f" text-anchor="start" font-weight="normal" >Solid phase</text>
<text x="796.90" y="635.60" font-size="19.5" fill="#2e5e9a" text-anchor="start" font-weight="normal" >Liquid phase</text>
<text x="582.50" y="715.00" font-size="19.5" fill="#24507f" text-anchor="start" font-weight="normal" >Solid</text>
<text x="582.50" y="738.30" font-size="19.5" fill="#24507f" text-anchor="start" font-weight="normal" >phase</text>
<text x="741.50" y="744.50" font-size="19.5" fill="#2e5e9a" text-anchor="start" font-weight="normal" >Solid-Liquid phase</text>
<text x="948.30" y="718.00" font-size="19.5" fill="#2e5e9a" text-anchor="start" font-weight="normal" >Liquid</text>
<text x="947.80" y="741.30" font-size="19.5" fill="#2e5e9a" text-anchor="start" font-weight="normal" >phase</text>
</svg></body></html>
